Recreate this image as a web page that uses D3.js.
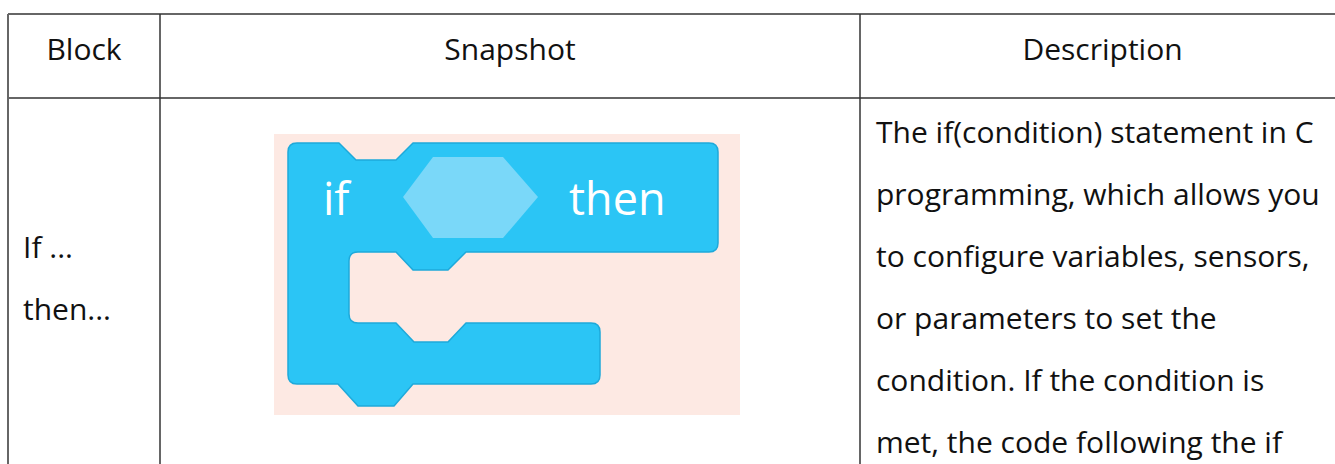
<!DOCTYPE html>
<html>
<head>
<meta charset="utf-8">
<script src="https://cdn.jsdelivr.net/npm/d3@7"></script>
<style>
  html, body { margin: 0; padding: 0; background: #ffffff; }
  svg { display: block; }
</style>
</head>
<body>
<div id="chart"></div>
<script>
// ---- content (data) ----
const headers = ["Block", "Snapshot", "Description"];
const blockNameLines = ["If ...", "then..."];
const descriptionLines = [
  "The if(condition) statement in C",
  "programming, which allows you",
  "to configure variables, sensors,",
  "or parameters to set the",
  "condition. If the condition is",
  "met, the code following the if"
];
const snapshotWords = ["if", "then"];

// ---- layout ----
const W = 1335, H = 464;
const colEdges = [8, 160, 860, 1345];
const rowEdges = [14, 98, 600];
const font = "'Open Sans', 'Noto Sans', sans-serif";

const svg = d3.select("#chart").append("svg")
  .attr("width", W).attr("height", H);

// Column scale (band positions from edges)
const col = d3.scaleOrdinal().domain(headers).range(colEdges.slice(0, 3));
const colW = d3.scaleOrdinal().domain(headers).range(colEdges.slice(1).map((e, i) => e - colEdges[i]));

// ---- header texts ----
svg.append("g").selectAll("text").data(headers).join("text")
  .attr("x", d => col(d) + colW(d) / 2)
  .attr("y", 60)
  .attr("text-anchor", "middle")
  .attr("font-family", font)
  .attr("font-size", 30)
  .attr("fill", "#111")
  .text(d => d);

// ---- block name lines ----
const lineY1 = d3.scaleLinear().domain([0, 1]).range([258, 320]);
svg.append("g").selectAll("text").data(blockNameLines).join("text")
  .attr("x", 23)
  .attr("y", (d, i) => lineY1(i))
  .attr("font-family", font)
  .attr("font-size", 30)
  .attr("fill", "#111")
  .text(d => d);

// ---- description lines ----
const lineY = d3.scaleLinear().domain([0, 1]).range([143, 205]);
svg.append("g").selectAll("text").data(descriptionLines).join("text")
  .attr("x", 876)
  .attr("y", (d, i) => lineY(i))
  .attr("font-family", font)
  .attr("font-size", 30)
  .attr("fill", "#111")
  .text(d => d);

// ---- snapshot picture ----
const snap = svg.append("g");
snap.append("rect")
  .attr("x", 274).attr("y", 134).attr("width", 466).attr("height", 281)
  .attr("fill", "#fde9e3");

const L = 288, T = 143, R = 718, Tb = 252, IL = 349, Ab = 323, AR = 600, B = 384, r = 9;
const p = d3.path();
p.moveTo(L, T + r);
p.quadraticCurveTo(L, T, L + r, T);
p.lineTo(339, T);
p.lineTo(356, 160);
p.lineTo(396, 160);
p.lineTo(413, T);
p.lineTo(R - r, T);
p.quadraticCurveTo(R, T, R, T + r);
p.lineTo(R, Tb - r);
p.quadraticCurveTo(R, Tb, R - r, Tb);
p.lineTo(466, Tb);
p.lineTo(448, 270);
p.lineTo(413, 270);
p.lineTo(396, Tb);
p.lineTo(IL + r, Tb);
p.quadraticCurveTo(IL, Tb, IL, Tb + r);
p.lineTo(IL, Ab - r);
p.quadraticCurveTo(IL, Ab, IL + r, Ab);
p.lineTo(396, Ab);
p.lineTo(414, 342);
p.lineTo(448, 342);
p.lineTo(466, Ab);
p.lineTo(AR - r, Ab);
p.quadraticCurveTo(AR, Ab, AR, Ab + r);
p.lineTo(AR, B - r);
p.quadraticCurveTo(AR, B, AR - r, B);
p.lineTo(413, B);
p.lineTo(394, 406);
p.lineTo(358, 406);
p.lineTo(338, B);
p.lineTo(L + r, B);
p.quadraticCurveTo(L, B, L, B - r);
p.closePath();

snap.append("path")
  .attr("d", p.toString())
  .attr("fill", "#2bc5f5")
  .attr("stroke", "#1ea9da")
  .attr("stroke-width", 1.5)
  .attr("stroke-linejoin", "round");

const hex = [[403, 197], [433, 157], [503, 157], [538, 197], [503, 238], [433, 238]];
snap.append("polygon")
  .attr("points", hex.map(d => d.join(",")).join(" "))
  .attr("fill", "#7ad8f9");

snap.selectAll("text.w").data(snapshotWords).join("text")
  .attr("class", "w")
  .attr("x", (d, i) => i === 0 ? 323 : 569)
  .attr("y", 215)
  .attr("font-family", font)
  .attr("font-size", 45)
  .attr("fill", "#ffffff")
  .text(d => d);

// ---- table grid ----
const grid = svg.append("g").attr("stroke", "#333").attr("stroke-width", 1.5).attr("fill", "none");
grid.selectAll("line.h").data(rowEdges.slice(0, 2)).join("line")
  .attr("class", "h")
  .attr("x1", colEdges[0]).attr("x2", W)
  .attr("y1", d => d).attr("y2", d => d);
grid.selectAll("line.v").data(colEdges.slice(0, 3)).join("line")
  .attr("class", "v")
  .attr("x1", d => d).attr("x2", d => d)
  .attr("y1", rowEdges[0]).attr("y2", H)
  .attr("stroke", (d, i) => i === 0 ? "#666" : "#333")
  .attr("stroke-width", (d, i) => i === 0 ? 2 : 1.5);
</script>
</body>
</html>
